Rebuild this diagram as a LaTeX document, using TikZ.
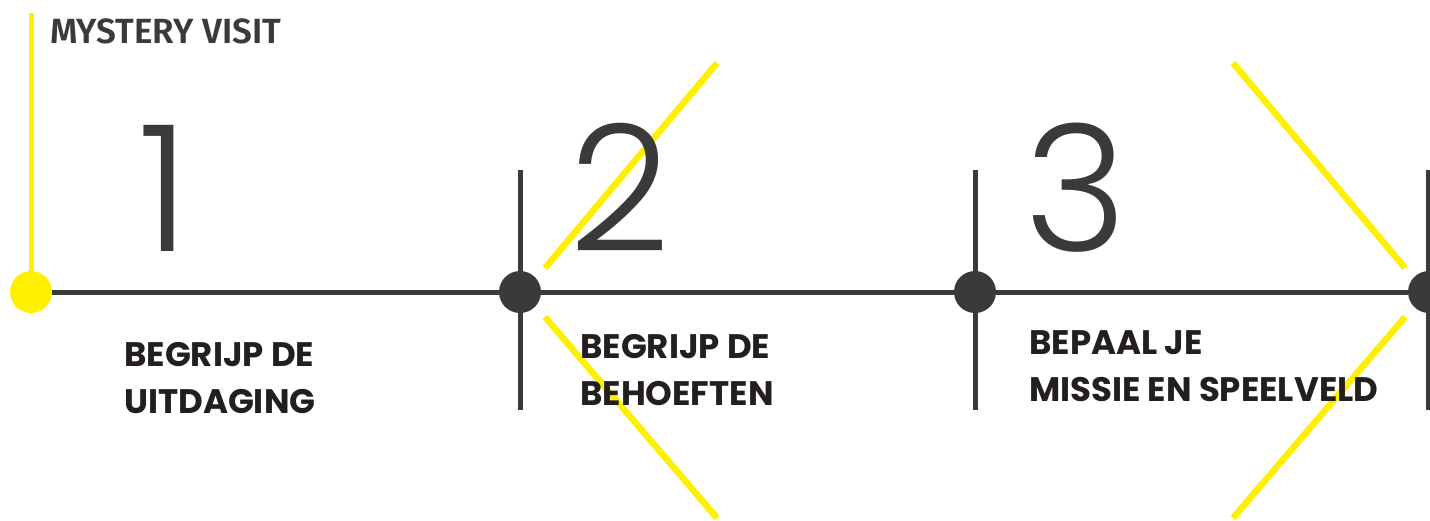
\documentclass[tikz,border=0pt]{standalone}
\usepackage{fontspec}
\setmainfont{Poppins}
\newfontfamily\numfont{Poppins Light}
\newfontfamily\kopfont{Fira Sans SemiBold}
\usepackage{xcolor}
\usetikzlibrary{positioning}

\definecolor{geel}{HTML}{FFF000}
\definecolor{donker}{HTML}{3A3A3A}
\definecolor{inkt}{HTML}{231F20}

\begin{document}
\begin{tikzpicture}[x=1pt,y=-1pt,
    dot/.style={circle,fill=donker,minimum size=42pt,inner sep=0pt},
    stap/.style={inner sep=0pt,anchor=base,text=donker,font=\numfont\fontsize{176}{176}\selectfont},
    label/.style={inner sep=0pt,anchor=north west,align=left,text=inkt,font=\bfseries\fontsize{34}{47}\selectfont},
    as/.style={donker,line width=5pt},
    straal/.style={geel,line width=6.5pt}]
  \useasboundingbox (0,0) rectangle (1430,520);

  % tijdlijn
  \coordinate (top) at (31,13);
  \coordinate (t1) at (520,170);  \coordinate (b1) at (520,410);
  \coordinate (t2) at (975,170);  \coordinate (b2) at (975,410);
  \coordinate (t3) at (1428,170); \coordinate (b3) at (1428,410);
  \draw[as] (t1) -- (b1);
  \draw[as] (t2) -- (b2);
  \draw[as] (t3) -- (b3);

  \node[dot,fill=geel] (q0) at (31,292) {};
  \node[dot] (q1) at (520,292) {};
  \node[dot] (q2) at (975,292) {};
  \node[dot] (q3) at (1429,292) {};
  \draw[geel,line width=5pt] (top) -- (q0);
  \draw[as] (q0) -- (q1) -- (q2) -- (q3);

  % stralen
  \coordinate (l1) at (717,63);  \coordinate (l2) at (545,268);
  \coordinate (l3) at (545,317); \coordinate (l4) at (717,518);
  \coordinate (r1) at (1233,63); \coordinate (r2) at (1405,268);
  \coordinate (r3) at (1405,317); \coordinate (r4) at (1233,518);
  \draw[straal] (l1) -- (l2);
  \draw[straal] (l3) -- (l4);
  \draw[straal] (r1) -- (r2);
  \draw[straal] (r3) -- (r4);

  \node[inner sep=0pt,anchor=base west,text=donker,font=\kopfont\fontsize{35}{40}\selectfont] (kop) at (50,43) {MYSTERY VISIT};

  \node[stap] (n1) at (164,251) {1};
  \node[stap] (n2) at (620,251) {2};
  \node[stap] (n3) at (1076,251) {3};

  \node[label] (s1) at (124,342) {BEGRIJP DE\\UITDAGING};
  \node[label] (s2) at (580,334) {BEGRIJP DE\\BEHOEFTEN};
  \node[label] (s3) at (1029,330) {BEPAAL JE\\MISSIE EN SPEELVELD};
\end{tikzpicture}
\end{document}
